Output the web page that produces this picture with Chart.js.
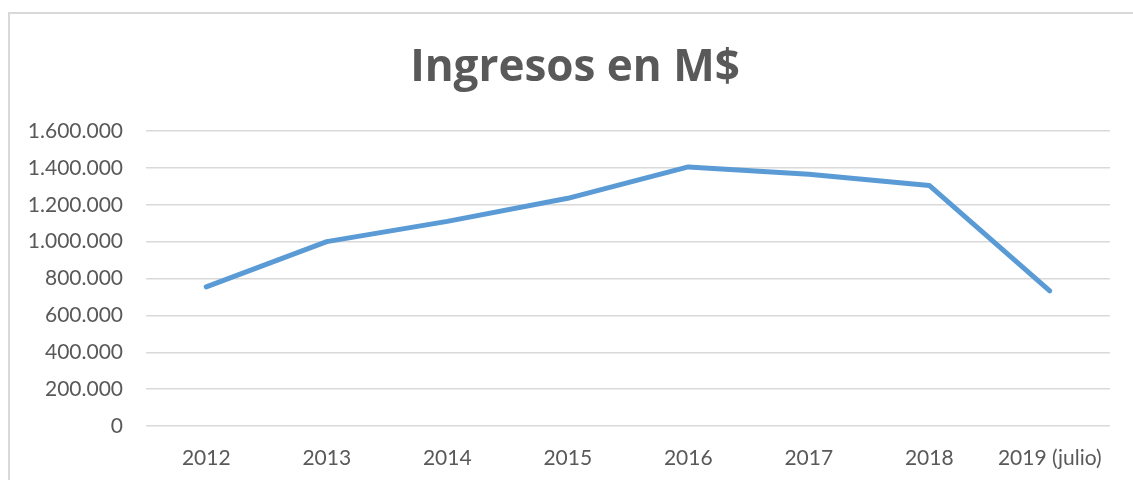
<!DOCTYPE html>
<html>
<head>
<meta charset="utf-8">
<title>Ingresos en M$</title>
<script src="https://cdn.jsdelivr.net/npm/chart.js@4.4.1/dist/chart.umd.min.js"></script>
<style>
    html, body { margin: 0; padding: 0; background: #ffffff; overflow: hidden; }
    #wrap { position: relative; width: 1133px; height: 480px; }
    #frame {
        position: absolute; left: 8px; top: 12px;
        width: 1200px; height: 600px;
        border: 2px solid #d9d9d9; box-sizing: border-box;
    }
    canvas { position: absolute; left: 0; top: 0; }
</style>
</head>
<body>
<div id="wrap">
    <div id="frame"></div>
    <canvas id="chart" width="1133" height="480"></canvas>
</div>
<script>
// ==================== DATOS ====================
const years = ['2012', '2013', '2014', '2015', '2016', '2017', '2018', '2019 (julio)'];
const ingresos = [755000, 1000000, 1110000, 1235000, 1405000, 1365000, 1305000, 733000];
const yMin = 0;
const yMax = 1600000;
const yStep = 200000;

const gray = '#595959';
const gridGray = '#d9d9d9';

// separador de miles con punto
function formatMiles(v) {
    return String(Math.round(v)).replace(/\B(?=(\d{3})+(?!\d))/g, '.');
}

// ==================== CHART ====================
const ctx = document.getElementById('chart').getContext('2d');

new Chart(ctx, {
    type: 'line',
    data: {
        labels: years,
        datasets: [{
            label: 'Ingresos',
            data: ingresos,
            borderColor: '#5b9bd5',
            backgroundColor: '#5b9bd5',
            borderWidth: 5,
            borderCapStyle: 'round',
            borderJoinStyle: 'round',
            pointRadius: 0,
            tension: 0,
            fill: false
        }]
    },
    options: {
        responsive: false,
        animation: false,
        layout: {
            padding: { top: 40, right: 0, bottom: 0, left: 17 }
        },
        plugins: {
            legend: { display: false },
            tooltip: { enabled: false },
            title: {
                display: true,
                text: 'Ingresos en M$',
                color: gray,
                font: { family: 'Open Sans', size: 44, weight: 'bold' },
                padding: { top: 1.6, bottom: 36.6 }
            }
        },
        scales: {
            x: {
                offset: true,
                grid: { display: false, drawTicks: false },
                border: { display: false },
                ticks: {
                    color: gray,
                    font: { family: 'Lato', size: 21 },
                    padding: 20,
                    maxRotation: 0,
                    autoSkip: false
                },
                afterFit: (scale) => { scale.height = 54; }
            },
            y: {
                min: yMin,
                max: yMax,
                grid: {
                    color: gridGray,
                    lineWidth: 1.5,
                    drawTicks: false
                },
                border: { display: false },
                ticks: {
                    stepSize: yStep,
                    color: gray,
                    font: { family: 'Lato', size: 21 },
                    padding: 23,
                    callback: (v) => formatMiles(v)
                },
                afterFit: (scale) => { scale.width = 129; }
            },
            // eje vacío a la derecha, solo reserva el margen
            y2: {
                position: 'right',
                grid: { display: false, drawTicks: false },
                border: { display: false },
                ticks: { display: false },
                afterFit: (scale) => { scale.width = 23; }
            }
        }
    }
});
</script>
</body>
</html>
